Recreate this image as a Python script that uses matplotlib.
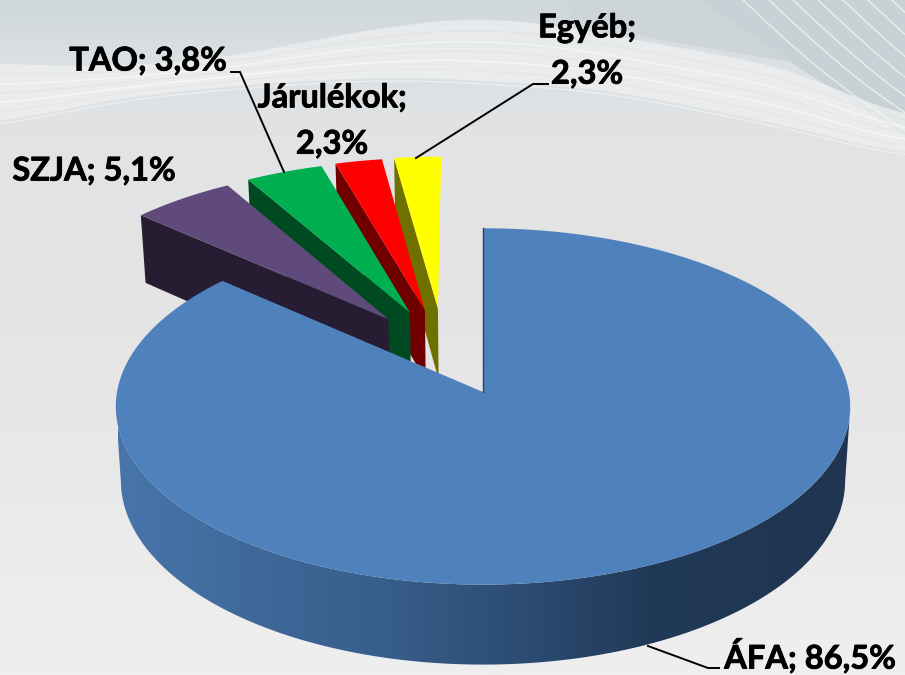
"""
Tax revenue shares, exploded 3D pie drawn by hand on a pixel sized axes.
"""
import numpy as np
import matplotlib
matplotlib.use('Agg')
import matplotlib.pyplot as plt
import matplotlib.patheffects as pe
from matplotlib.colors import LinearSegmentedColormap
from matplotlib.patches import Polygon

# chart data
names = ['ÁFA', 'SZJA', 'TAO', 'Járulékok', 'Egyéb']
shares = [86.5, 5.1, 3.8, 2.3, 2.3]

# styles
top_colors = ['#4F81BD', '#604A7B', '#00B050', '#FF0000', '#FFFF00']
wall_colors = ['#1F3550', '#261D33', '#004A22', '#700000', '#707000']
explode_u = [0.0, -0.267, -0.207, -0.165, -0.128]
explode_v = [0.0, 0.425, 0.465, 0.482, 0.49]
label_breaks = [' ', ' ', ' ', '\n', '\n']
label_x = [810, 94, 148, 332, 587]
label_y = [656, 171, 61, 121, 51]

# pie geometry in pixels
CX, CY = 483, 392
RX, RY = 366, 177
K = 0.081
DEPTH = 73.5
SHRINK = 0.014


def project(u, v, z=0.0):
    d = 1 + K * v
    return CX + RX * u / (d * (1 + SHRINK * z)), CY - RY * v / d + DEPTH * z / d


def arc(start, end, du=0.0, dv=0.0, z=0.0):
    t = np.radians(np.linspace(start, end, 240))
    x, y = project(du + np.sin(t), dv + np.cos(t), z)
    return np.column_stack([x, y])


def smooth(values, n=31):
    pad = np.r_[np.full(n, values[0]), values, np.full(n, values[-1])]
    return np.convolve(pad, np.ones(n) / n, mode='same')[n:-n]


def draw_background(ax):
    stops = [(0.0, '#CFD7DB'), (0.10, '#DCE1E4'), (0.20, '#E2E3E4'),
             (0.45, '#E4E4E4'), (1.0, '#EFEFEF')]
    cmap = LinearSegmentedColormap.from_list('bg', stops)
    ax.imshow(np.linspace(0, 1, 256).reshape(-1, 1), cmap=cmap, aspect='auto',
              extent=(0, 905, 675, 0), zorder=0)

    # darker area in the upper right corner
    ax.add_patch(Polygon([(570, 0), (905, 0), (905, 135), (790, 62), (650, 38), (570, 18)],
                         closed=True, fc='#CDD5D9', ec='none', zorder=0.5))
    ax.add_patch(Polygon([(700, 0), (905, 0), (905, 135), (800, 68)],
                         closed=True, fc='#C7D0D4', ec='none', alpha=0.7, zorder=0.6))

    # pale band across the top
    xs = np.linspace(0, 905, 200)
    upper = smooth(np.interp(xs, [0, 60, 200, 400, 500, 650, 800, 905],
                             [62, 68, 62, 24, 16, 42, 70, 122]))
    lower = smooth(np.interp(xs, [0, 100, 250, 400, 600, 800, 905],
                             [125, 100, 84, 76, 88, 128, 156]))
    ax.fill_between(xs, upper, lower, color='#EFF0F1', alpha=0.75, lw=0, zorder=1)
    for frac, col, alpha in [(0.18, '#DDE1E4', 0.5), (0.36, '#FFFFFF', 0.5),
                             (0.52, '#D8DCDF', 0.35), (0.68, '#FFFFFF', 0.6),
                             (0.84, '#DADDE0', 0.35)]:
        ax.plot(xs, upper + (lower - upper) * frac, color=col, alpha=alpha, lw=1.0, zorder=1)
    ax.plot(xs, lower + 3, color='#F6F6F6', lw=1.0, alpha=0.6, zorder=1)

    # thin white lines of the fan
    for start in [743, 769, 793, 818, 843, 868, 892]:
        t = np.linspace(0, 1, 40)
        ax.plot(start + t * 170, t * 135 + 8 * np.sin(t * np.pi), color='#F4F6F6',
                lw=0.9, alpha=0.85, zorder=1.5)


def draw_pie(ax):
    # angles run clockwise from twelve o'clock, first slice starts at the top
    starts = np.cumsum([0] + shares[:-1]) * 3.6
    ends = np.cumsum(shares) * 3.6
    z = 2

    # exploded slices go back to front, each one hides the wall of the last
    for i in range(len(shares) - 1, 0, -1):
        du, dv = explode_u[i], explode_v[i]
        apex = project(du, dv)
        apex_low = project(du, dv, 1)
        outer = arc(starts[i], ends[i], du, dv)
        wall = np.vstack([outer[0], apex, apex_low, arc(starts[i], starts[i], du, dv, 1)[0]])
        ax.add_patch(Polygon(wall, closed=True, fc=wall_colors[i], ec='none', zorder=z))
        top = np.vstack([apex, outer])
        ax.add_patch(Polygon(top, closed=True, fc=top_colors[i], ec='none', zorder=z + 0.5))
        z += 1

    # big slice: outer wall with a left to right shade, then its top
    wall = np.vstack([arc(95, 265), arc(265, 95, z=1)])
    clip = Polygon(wall, closed=True, fc='none', ec='none', transform=ax.transData)
    ax.add_patch(clip)
    shade = LinearSegmentedColormap.from_list(
        'shade', [(0.0, '#4775AA'), (0.18, '#40699A'), (0.37, '#375D8A'),
                  (0.55, '#2C4C73'), (0.72, '#213A58'), (1.0, '#1F3550')])
    im = ax.imshow(np.linspace(0, 1, 256).reshape(1, -1), cmap=shade, aspect='auto',
                   extent=(118, 850, 675, 380), zorder=z)
    im.set_clip_path(clip)
    top = np.vstack([project(0, 0), arc(starts[0], ends[0])])
    ax.add_patch(Polygon(top, closed=True, fc=top_colors[0], ec='none', zorder=z + 1))
    x0, y0 = project(0, 0)
    x1, y1 = project(0, 1)
    ax.plot([x0, x1], [y0, y1], color='#2B3F58', lw=1.0, zorder=z + 1.5)


def draw_labels(ax):
    for name, share, sep, x, y in zip(names, shares, label_breaks, label_x, label_y):
        text = f'{name};{sep}{share:.1f}%'.replace('.', ',')
        ax.text(x, y, text, ha='center', va='center', fontsize=23.5, fontweight='bold',
                family='Lato', color='black', linespacing=1.72, zorder=20,
                path_effects=[pe.withStroke(linewidth=0.6, foreground='black')])
    leaders = [([648, 708, 719], [646, 668, 668]),
               ([231, 240, 284], [72, 72, 172]),
               ([548, 533, 416], [84, 84, 158])]
    for lx, ly in leaders:
        ax.plot(lx, ly, color='black', lw=1.4, zorder=19, solid_joinstyle='miter')


def main():
    fig = plt.figure(figsize=(9.05, 6.75), dpi=100)
    ax = fig.add_axes([0, 0, 1, 1])
    draw_background(ax)
    draw_pie(ax)
    draw_labels(ax)
    ax.set_xlim(0, 905)
    ax.set_ylim(675, 0)
    ax.axis('off')
    fig.savefig('out.png', dpi=100)


if __name__ == '__main__':
    main()
